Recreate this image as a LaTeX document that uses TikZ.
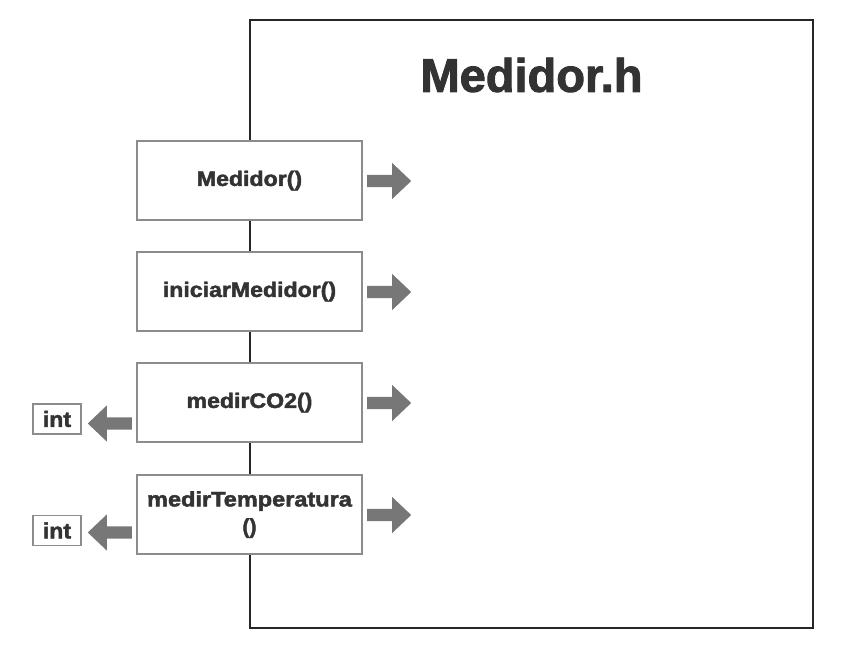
\documentclass[tikz,border=0pt]{standalone}
\usepackage{fontspec}
\setmainfont{Liberation Sans}[BoldFeatures={FakeBold=2}]
\usetikzlibrary{shapes.arrows}
\definecolor{txt}{HTML}{333333}
\definecolor{boxline}{HTML}{8C8C8C}
\definecolor{arrowgray}{HTML}{777777}
\begin{document}
\begin{tikzpicture}[x=1pt,y=-1pt,
  fn/.style={draw=boxline,line width=1.6pt,fill=white,minimum width=225pt,minimum height=79pt,inner sep=2pt,align=center,text width=221pt,
    font=\fontsize{21}{30}\selectfont\bfseries,text=txt},
  rarr/.style={single arrow,fill=arrowgray,draw=none,minimum height=44pt,single arrow head extend=12pt,single arrow tip angle=87,inner sep=0pt,anchor=tail},
  larr/.style={rarr,shape border rotate=180},
  retbox/.style={draw=boxline,line width=1.4pt,fill=white,minimum width=48pt,minimum height=30pt,inner sep=0pt,font=\fontsize{22}{24}\selectfont\bfseries,text=txt}]
\useasboundingbox (0,0) rectangle (847,645);
\node[draw=black!85,line width=1.4pt,minimum width=563pt,minimum height=608pt,inner sep=0pt] (frame) at (531.5,324) {};
\node[font=\fontsize{47}{50}\selectfont\bfseries,text=txt] (title) at (531.5,75) {Medidor.h};
\node[fn] (b1) at (249.5,180.5) {\scalebox{1.1}[1]{Medidor()}};
\node[fn] (b2) at (249.5,291.5) {\scalebox{1.1}[1]{iniciarMedidor()}};
\node[fn] (b3) at (249.5,402.5) {\scalebox{1.1}[1]{medirCO2()}};
\node[fn] (b4) at (249.5,514.5) {\scalebox{1.12}[1]{medirTemperatura}\\[-3pt]()};
\node[rarr] (r1) at (367,181) {\rule{0pt}{12pt}};
\node[rarr] (r2) at (367,292) {\rule{0pt}{12pt}};
\node[rarr] (r3) at (367,403) {\rule{0pt}{12pt}};
\node[rarr] (r4) at (367,515) {\rule{0pt}{12pt}};
\node[larr] (l3) at (132,423.5) {\rule{0pt}{12pt}};
\node[larr] (l4) at (132,532.5) {\rule{0pt}{12pt}};
\node[retbox] (i3) at (57,419) {\scalebox{1.05}[1]{int}};
\node[retbox] (i4) at (57,530.5) {\scalebox{1.05}[1]{int}};
\end{tikzpicture}
\end{document}
